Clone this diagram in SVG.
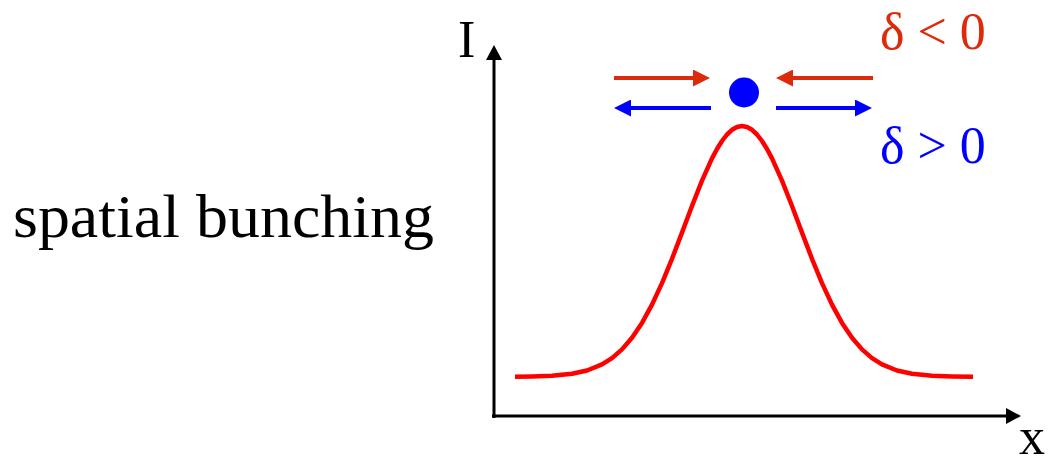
<svg xmlns="http://www.w3.org/2000/svg" width="1049" height="461" viewBox="0 0 1049 461">
<style>
.t{font-family:"Liberation Serif","Times New Roman",serif}
.ax{stroke:#000;stroke-width:3;fill:none}
.red{stroke:#dd2a0a;stroke-width:4;fill:none}
.blue{stroke:#0000ff;stroke-width:4;fill:none}
</style>
<defs>
<marker id="hk" markerWidth="15" markerHeight="16" refX="0" refY="8" orient="auto" markerUnits="userSpaceOnUse"><path d="M0,0L15,8L0,16Z" fill="#000"/></marker>
<marker id="hr" markerWidth="17" markerHeight="17" refX="0" refY="8.5" orient="auto" markerUnits="userSpaceOnUse"><path d="M0,0L17,8.5L0,17Z" fill="#dd2a0a"/></marker>
<marker id="hb" markerWidth="17" markerHeight="17" refX="0" refY="8.5" orient="auto" markerUnits="userSpaceOnUse"><path d="M0,0L17,8.5L0,17Z" fill="#0000ff"/></marker>
</defs>
<rect width="1049" height="461" fill="#fff"/>
<g id="label-spatial"><text class="t" x="13" y="237" font-size="62" textLength="421" lengthAdjust="spacingAndGlyphs">spatial bunching</text></g>
<g id="axes">
<line class="ax" x1="494" y1="418" x2="494" y2="60" marker-end="url(#hk)"/>
<line class="ax" x1="492" y1="416" x2="1006" y2="416" marker-end="url(#hk)"/>
<text class="t" x="458" y="57" font-size="52">I</text>
<text class="t" x="1019" y="454" font-size="52">x</text>
</g>
<g id="curve"><polyline fill="none" stroke="#ff0000" stroke-width="4.5" stroke-linejoin="round" stroke-linecap="butt" points="515,376.7 532,376.4 552,375.7 572,373.8 587,370.5 602,364.4 612,358.1 622,349.4 632,337.8 642,322.9 652,304.6 662,283.1 672,258.8 682,232.6 692,206 702,180.7 712,158.4 717,149 722,141 727,134.5 732,129.8 737,127 742,126 747,127 752,129.8 757,134.5 762,141 767,149 772,158.4 782,180.7 792,206 802,232.6 812,258.8 822,283.1 832,304.6 842,322.9 852,337.8 862,349.4 872,358.1 882,364.4 897,370.5 912,373.8 932,375.7 952,376.4 973,376.7"/></g>
<g id="particle"><circle cx="744" cy="92.5" r="15" fill="#0000ff"/></g>
<g id="connectors">
<line class="red" x1="614" y1="78" x2="693" y2="78" marker-end="url(#hr)"/>
<line class="red" x1="873" y1="78" x2="793" y2="78" marker-end="url(#hr)"/>
<line class="blue" x1="711" y1="108" x2="631" y2="108" marker-end="url(#hb)"/>
<line class="blue" x1="776" y1="108" x2="855" y2="108" marker-end="url(#hb)"/>
</g>
<g id="labels">
<text class="t" x="880" y="49" font-size="52" fill="#dd2a0a">δ &lt; 0</text>
<text class="t" x="880" y="163" font-size="52" fill="#0000ff">δ &gt; 0</text>
</g>
</svg>
